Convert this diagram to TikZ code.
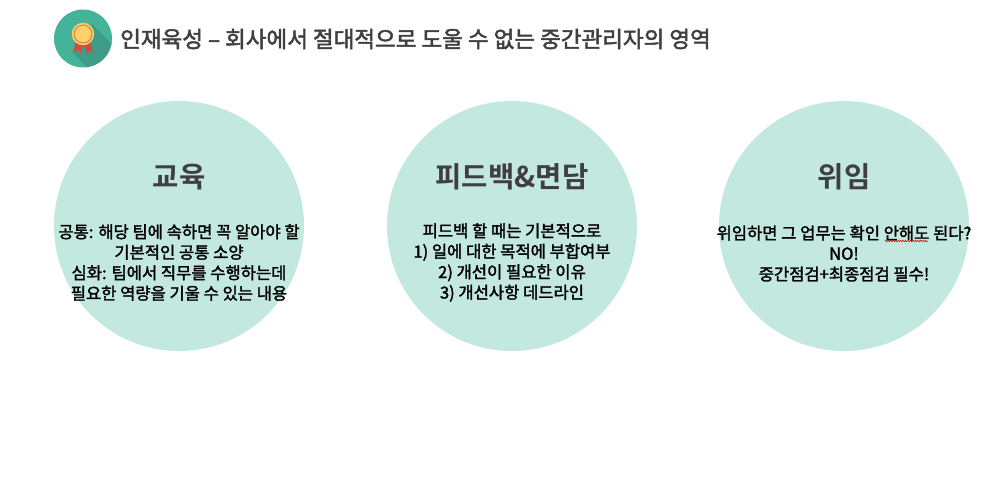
\documentclass[tikz,border=0pt]{standalone}
\usepackage{fontspec}
\setmainfont{Noto Sans CJK KR}
\newfontfamily\bodyfont[FakeBold=1.8]{Noto Sans CJK KR}
\newfontfamily\headfont{Noto Sans CJK KR Bold}
\newfontfamily\titlefont[FakeBold=2.2]{Noto Sans CJK KR}
\usetikzlibrary{decorations.pathmorphing}
\definecolor{mint}{HTML}{C3E8DF}
\definecolor{teal1}{HTML}{45B39A}
\definecolor{teal2}{HTML}{3E9C88}
\definecolor{ttl}{HTML}{3F3F3F}
\definecolor{medal}{HTML}{FFCF6B}
\definecolor{medalo}{HTML}{E0703A}
\definecolor{rib}{HTML}{C8503F}
\tikzset{
 bigc/.style={circle,fill=mint,minimum size=250pt,inner sep=0pt},
 head/.style={text=ttl,font=\headfont\fontsize{28.6}{32}\selectfont,inner sep=0pt,anchor=center},
 body/.style={text=black,font=\bodyfont\fontsize{16.55}{20.5}\selectfont,align=center,inner sep=0pt,anchor=center},
 titletxt/.style={text=ttl,font=\titlefont\fontsize{22.5}{26}\selectfont,inner sep=0pt,anchor=west},
}
\begin{document}
\begin{tikzpicture}[x=1pt,y=-1pt]
\useasboundingbox (0,0) rectangle (997,491);
\fill[white] (0,0) rectangle (997,491);
% icon
\node[circle,fill=teal1,minimum size=58pt,inner sep=0pt] (icon) at (83,38.5) {};
\begin{scope}
\clip (83,38.5) circle (29);
\fill[teal2] (92,24) -- (118,50) -- (118,84) -- (104,84) -- (73,53) -- (75,42) -- cycle;
\end{scope}
\fill[rib] (76,42) -- (72.7,53.3) -- (77,50) -- (80.7,53.3) -- (83,44) -- cycle;
\fill[rib] (90,42) -- (93.3,53.3) -- (90,50) -- (86.7,53.3) -- (83,44) -- cycle;
\node[circle,fill=medal,draw=medal,minimum size=22pt,inner sep=0pt] (medal) at (83,34) {};
\node[circle,draw=medalo,line width=0.8pt,minimum size=18pt,inner sep=0pt] at (medal) {};
\node[titletxt] (title) at (120,39) {인재육성 – 회사에서 절대적으로 도울 수 없는 중간관리자의 영역};
% circles
\node[bigc] (c1) at (179,226) {};
\node[bigc] (c2) at (512,226) {};
\node[bigc] (c3) at (844,226) {};
\node[head] (h1) at (179,177) {교육};
\node[head] (h2) at (512,177) {피드백\&면담};
\node[head] (h3) at (844,177) {위임};
\node[body] (b1) at (179,262.5) {공통: 해당 팀에 속하면 꼭 알아야 할\\기본적인 공통 소양\\심화: 팀에서 직무를 수행하는데\\필요한 역량을 기울 수 있는 내용};
\node[body] (b2) at (512,262.5) {피드백 할 때는 기본적으로\\1) 일에 대한 목적에 부합여부\\2) 개선이 필요한 이유\\3) 개선사항 데드라인};
\node[body] (b3) at (844,253.5) {위임하면 그 업무는 확인 안해도 된다?\\NO!\\중간점검+최종점검 필수!};
\coordinate (sqa) at (885,241);
\coordinate (sqb) at (928,241);
\draw[red!75!black,line width=0.5pt,decorate,decoration={zigzag,segment length=2.5pt,amplitude=0.8pt}] (sqa) -- (sqb);
\end{tikzpicture}
\end{document}
